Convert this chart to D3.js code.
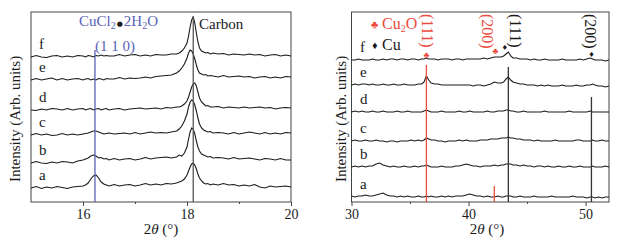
<!DOCTYPE html>
<html>
<head>
<meta charset="utf-8">
<script src="https://cdn.jsdelivr.net/npm/d3@7"></script>
<style>
  body { margin: 0; background: #fff; }
  svg text { font-family: "Liberation Serif", "Times New Roman", serif; }
</style>
</head>
<body>
<div id="wrapper"></div>
<script>
// ---- data ----
const traceNames = ['a', 'b', 'c', 'd', 'e', 'f'];

// left panel: 2theta grid and intensities above each baseline
const xLeft = [
	15.0, 15.1, 15.2, 15.3, 15.4, 15.5, 15.6, 15.7, 15.8, 15.9,
	16.0, 16.05, 16.1, 16.15, 16.2, 16.25, 16.3, 16.35, 16.4, 16.45, 16.5,
	16.6, 16.7, 16.8, 16.9, 17.0, 17.1, 17.2, 17.3, 17.4, 17.5, 17.6, 17.7,
	17.8, 17.85, 17.9, 17.95, 18.0, 18.03, 18.06, 18.09, 18.12, 18.15, 18.18, 18.21, 18.24, 18.28, 18.32, 18.36, 18.4, 18.45, 18.5,
	18.6, 18.7, 18.8, 18.9, 19.0, 19.1, 19.2, 19.3, 19.4, 19.5, 19.6, 19.7, 19.8, 19.9, 20.0
];
const offsetsLeft = [14, 39, 67, 92, 122, 145];
const leftA = [0, 1.5, -0.5, 1, 0, 1.5, 0.5, -0.5, 1, 1.5,
	2, 3, 5, 9, 12, 13, 10, 6, 4, 3, 2,
	3.5, 2, 3, 3.5, 2, 3, 4.5, 3, 4, 3, 4.5, 4,
	5, 6, 7, 9, 13, 17, 21, 24, 25, 23, 19, 14, 10, 7, 5, 4, 4.5, 3, 4,
	3, 4.5, 3, 3.5, 2, 3, 2, 3.5, 1, 0, 2, 1, 1.5, 2, 1];
const leftB = [0, 1.5, 0, -0.5, 1, 0, 1.5, 1, 0, 2,
	3, 4, 5, 7, 8, 7, 5, 5.5, 4, 4.5, 3,
	4.5, 3, 4, 4.5, 3, 4, 5.5, 4, 5, 5.5, 6, 5,
	6, 8, 7, 10, 16, 24, 31, 35, 34, 29, 22, 16, 12, 9, 8, 7, 6, 6.5, 5,
	5.5, 5, 4, 5.5, 4, 4.5, 5, 4, 3, 4.5, 4, 3, 4.5, 3, 3];
const leftC = [0, 1.5, 0, 1, -0.5, 0, 1.5, 0, 1, 0,
	1, 1.5, 2, 3, 4, 4, 3, 2, 1, 1.5, 2,
	1, 1.5, 2, 1, 2.5, 1, 2, 3, 2, 2.5, 2, 3,
	4, 6, 9, 14, 21, 28, 33, 35, 34, 30, 24, 17, 11, 7, 5, 4, 3, 3.5, 2,
	2.5, 2, 1, 2.5, 1, 2, 3, 2, 1, 2.5, 1, 2, 1, 2.5, 2];
const leftD = [0, -0.5, 1, 0, 1.5, 1, 0, 1.5, 0, 1,
	1.5, 0, 1, 1.5, 0, 1, 1.5, 0, 1, 1.5, 0,
	1, 1.5, 0, 1, 1.5, 2, 1, 1.5, 2, 1, 2.5, 2,
	3, 3, 4, 6, 9, 13, 18, 23, 26, 27, 24, 18, 12, 8, 6, 4, 4.5, 3, 3,
	3.5, 2, 3, 2.5, 2, 3, 2, 2.5, 3, 2, 2.5, 1, 2, 2.5, 2];
const leftE = [0, 1.5, 0, 1, 2, 0, 1.5, 0, 1, 1.5,
	0, 1, 1.5, 0, 1, 0, 1.5, 1, 0, 1.5, 1,
	1, 2.5, 1, 2, 1.5, 2, 3, 2, 3.5, 4, 4.5, 5,
	7, 9, 12, 16, 22, 27, 30, 29, 26, 21, 15, 10, 7, 6, 5, 5.5, 4, 4.5, 4,
	3, 4.5, 3, 3.5, 4, 3, 3.5, 2, 3, 3.5, 2, 3, 2, 3.5, 3];
const leftF = [0, 1.5, 0, -0.5, 1, 1.5, 0, 1, 0, 1.5,
	1, 0, 1.5, 1, 0, 1.5, 1, 2, 1, 1.5, 1,
	1, 2.5, 1, 2, 2.5, 1, 2, 1, 2.5, 2, 2, 3,
	3, 4, 6, 9, 14, 21, 30, 37, 40, 34, 24, 15, 9, 6, 5, 4, 4.5, 3, 4,
	3, 3.5, 2, 3, 2.5, 2, 3, 2, 2.5, 1, 2, 2.5, 1, 2, 1];
const seriesLeft = [leftA, leftB, leftC, leftD, leftE, leftF];

// right panel
const xRight = [
	30.0, 30.3, 30.6, 30.9, 31.2, 31.5, 31.8, 32.1, 32.4, 32.7, 33.0, 33.3, 33.6, 33.9, 34.2, 34.5, 34.8, 35.1, 35.4, 35.7, 36.0,
	36.2, 36.4, 36.6, 36.8,
	37.1, 37.4, 37.7, 38.0, 38.3, 38.6, 38.9, 39.2, 39.5, 39.8, 40.1, 40.4, 40.7, 41.0, 41.3, 41.6, 41.9, 42.2, 42.5, 42.8,
	43.0, 43.2, 43.4, 43.6, 43.8,
	44.1, 44.4, 44.7, 45.0, 45.3, 45.6, 45.9, 46.2, 46.5, 46.8, 47.1, 47.4, 47.7, 48.0, 48.3, 48.6, 48.9, 49.2, 49.5, 49.8, 50.1, 50.4,
	50.6, 50.8,
	51.1, 51.4, 51.7, 52.0
];
const offsetsRight = [5, 35, 61, 90, 117, 142];
const rightA = [1, 0, 1, 1, 2, 1, 1, 2, 3, 4, 2, 1, 1, 0, 1, 0, 1, 0, 0, 1, 0,
	0, 1, 0, 1,
	0, 0, 1, 0, 1, 0, 1, 1, 1, 2, 3, 2, 1, 1, 0, 1, 0, 0, 1, 0,
	0, 1, 1, 1, 0,
	0, 1, 0, 0, 0, 1, 0, 0, 0, 0, 1, 0, 0, 0, 0, 0, 1, 0, 0, 0, -1, 0,
	0, -1,
	0, -1, 0, 0];
const rightB = [0, 1, 0, 1, 0, 1, 1, 3, 4, 2, 1, 0, 1, 0, 0, 1, 0, 0, 1, 0, 1,
	1, 2, 1, 0,
	0, 0, 1, 0, 0, 0, 1, 1, 2, 3, 2, 1, 1, 0, 1, 1, 1, 2, 1, 2,
	2, 3, 3, 3, 2,
	2, 1, 2, 1, 1, 0, 1, 1, 0, 1, 0, 0, 1, 0, 0, 1, 0, 0, 1, 0, 0, 0,
	1, 0,
	0, 0, 1, 0];
const rightC = [0, 1, 0, 0, 1, 0, 0, 1, 0, 0, -1, 0, 0, -1, 0, 0, 0, 1, 0, 1, 0,
	1, 3, 2, 1,
	1, 0, 0, -1, 0, 0, 0, 1, 0, 1, 0, 0, 0, 1, 1, 1, 2, 2, 2, 3,
	3, 3, 4, 3, 3,
	2, 2, 1, 1, 1, 0, 1, 0, 0, 0, 0, 1, 0, 0, 0, 0, 0, 1, 1, 0, 0, 0,
	1, 0,
	0, 1, 0, 0];
const rightD = [0, 1, 0, 1, 0, 0, 1, 0, 0, 1, 0, 0, 0, 1, 0, 0, 1, 0, 0, 0, 0,
	1, 2, 1, 0,
	0, 0, 1, 0, 0, 0, 0, 1, 0, 0, 1, 0, 0, 0, 0, 1, 0, 0, 1, 1,
	1, 2, 2, 1, 1,
	0, 0, 1, 0, 0, 0, 0, 0, 1, 0, 0, 0, 0, 0, 0, 1, 0, 0, 0, 0, 0, 1,
	0, 0,
	0, 0, 0, 0];
const rightE = [0, 1, 0, 1, 1, 0, 1, 0, 0, 1, 0, 0, 1, 0, 0, 1, 0, 0, 0, 1, 1,
	3, 9, 5, 2,
	1, 1, 0, 0, 0, 0, 0, 0, 0, 0, 0, -1, 0, 0, -1, 0, 1, 3, 2, 2,
	3, 6, 8, 5, 3,
	2, 1, 1, 0, 0, 0, -1, 0, -1, 0, -1, -1, -1, 0, -1, -1, -1, 0, -1, -1, 0, 0,
	1, 0,
	-1, -1, -2, -1];
const rightF = [0, 0, 1, 0, 0, 0, 1, 0, 0, 1, 0, 1, 1, 0, 1, 1, 0, 1, 1, 0, 1,
	1, 2, 1, 1,
	1, 0, 1, 1, 1, 0, 1, 1, 0, 1, 1, 1, 1, 1, 2, 1, 2, 3, 3, 3,
	4, 6, 8, 4, 2,
	2, 1, 1, 1, 0, 1, 0, 0, 1, 0, 0, 0, 0, 1, 0, 0, 0, 0, 1, 0, 1, 2,
	1, 0,
	0, 0, -1, 0];
const seriesRight = [rightA, rightB, rightC, rightD, rightE, rightF];

// reference peak positions
const cuclPeak = 16.23;
const carbonPeak = 18.12;
const cu2oPeaks = [36.4, 42.2];
const cuPeaks = [43.4, 50.5];
const leftTicksMajor = [16, 18, 20];
const leftTicksMinor = [17, 19];
const rightTicksMajor = [30, 40, 50];
const rightTicksMinor = [35, 45];

// ---- drawing ----
const width = 628, height = 240;
const plotTop = 12, plotBottom = 202;
const red = '#ec4a3c', blue = '#5a62b6', ink = '#1a1a1a';

const svg = d3.select('#wrapper').append('svg').attr('width', width).attr('height', height);

const y = d3.scaleLinear().domain([0, 190]).range([plotBottom, plotTop]);

function panel(opts) {
	const x = d3.scaleLinear().domain(opts.domain).range(opts.range);
	const g = svg.append('g');

	// frame
	g.append('rect')
		.attr('x', opts.range[0]).attr('y', plotTop)
		.attr('width', opts.range[1] - opts.range[0]).attr('height', plotBottom - plotTop)
		.attr('fill', 'none').attr('stroke', '#444').attr('stroke-width', 1);

	const major = g.append('g').attr('transform', `translate(0,${plotBottom})`)
		.call(d3.axisBottom(x).tickValues(opts.major).tickSize(4).tickSizeOuter(0).tickPadding(3).tickFormat(d3.format('d')));
	const minor = g.append('g').attr('transform', `translate(0,${plotBottom})`)
		.call(d3.axisBottom(x).tickValues(opts.minor).tickSize(2).tickSizeOuter(0).tickFormat(''));
	[major, minor].forEach((a) => {
		a.select('.domain').remove();
		a.selectAll('line').attr('stroke', '#444');
	});
	major.selectAll('text').attr('font-size', 14).attr('fill', ink);

	// x title
	const xt = g.append('text').attr('x', opts.titleX).attr('y', 234)
		.attr('text-anchor', 'middle').attr('font-size', 15).attr('fill', ink);
	xt.append('tspan').text('2');
	xt.append('tspan').attr('font-style', 'italic').text('\u03B8');
	xt.append('tspan').text(' (\u00B0)');

	// y title
	g.append('text')
		.attr('transform', `translate(${opts.yTitleX},${(plotTop + plotBottom) / 2 + 12}) rotate(-90)`)
		.attr('text-anchor', 'middle').attr('font-size', 15).attr('fill', ink)
		.text('Intensity (Arb. units)');

	const line = d3.line().x((d) => x(d[0])).y((d) => y(d[1]));
	opts.series.forEach((s, i) => {
		const pts = opts.xs.map((xv, j) => [xv, opts.offsets[i] + s[j]]);
		g.append('path').attr('d', line(pts))
			.attr('fill', 'none').attr('stroke', ink).attr('stroke-width', 1.1);
		g.append('text').attr('x', opts.labelX).attr('y', y(opts.offsets[i]) - 8)
			.attr('font-size', 15).attr('fill', ink).text(traceNames[i]);
	});
	return { g, x };
}

// left panel
const L = panel({
	domain: [15, 20], range: [31, 291], major: leftTicksMajor, minor: leftTicksMinor,
	xs: xLeft, series: seriesLeft, offsets: offsetsLeft, labelX: 39, titleX: 161, yTitleX: 20
});
L.g.append('line').attr('x1', L.x(cuclPeak)).attr('x2', L.x(cuclPeak)).attr('y1', y(152)).attr('y2', y(0))
	.attr('stroke', blue).attr('stroke-width', 1.3);
L.g.append('line').attr('x1', L.x(carbonPeak)).attr('x2', L.x(carbonPeak)).attr('y1', y(186)).attr('y2', y(0))
	.attr('stroke', '#555').attr('stroke-width', 1.3);

const cucl = L.g.append('text').attr('x', 79).attr('y', 26).attr('font-size', 15).attr('fill', blue);
cucl.append('tspan').text('CuCl');
cucl.append('tspan').attr('font-size', 10).attr('dy', 3).text('2');
cucl.append('tspan').attr('dy', -3).attr('font-family', 'DejaVu Sans').attr('font-size', 7).attr('dx', 1).attr('fill', ink).text('\u25CF');
cucl.append('tspan').attr('dx', 1).text('2H');
cucl.append('tspan').attr('font-size', 10).attr('dy', 3).text('2');
cucl.append('tspan').attr('dy', -3).text('O');
L.g.append('text').attr('x', 115).attr('y', 51).attr('text-anchor', 'middle')
	.attr('font-size', 15).attr('fill', blue).text('(1 1 0)');
L.g.append('text').attr('x', 199).attr('y', 29).attr('font-size', 15).attr('fill', ink).text('Carbon');

// right panel
const R = panel({
	domain: [30, 52], range: [351.5, 609], major: rightTicksMajor, minor: rightTicksMinor,
	xs: xRight, series: seriesRight, offsets: offsetsRight, labelX: 360, titleX: 487, yTitleX: 346
});
R.g.append('line').attr('x1', R.x(cu2oPeaks[0])).attr('x2', R.x(cu2oPeaks[0])).attr('y1', y(137)).attr('y2', y(0))
	.attr('stroke', red).attr('stroke-width', 1.3);
R.g.append('line').attr('x1', R.x(cu2oPeaks[1])).attr('x2', R.x(cu2oPeaks[1])).attr('y1', y(16)).attr('y2', y(0))
	.attr('stroke', red).attr('stroke-width', 1.3);
R.g.append('line').attr('x1', R.x(cuPeaks[0])).attr('x2', R.x(cuPeaks[0])).attr('y1', y(135)).attr('y2', y(0))
	.attr('stroke', '#333').attr('stroke-width', 1.3);
R.g.append('line').attr('x1', R.x(cuPeaks[1])).attr('x2', R.x(cuPeaks[1])).attr('y1', y(105)).attr('y2', y(0))
	.attr('stroke', '#333').attr('stroke-width', 1.3);

// legend
R.g.append('text').attr('x', 371).attr('y', 28).attr('font-size', 11).attr('font-family', 'DejaVu Sans')
	.attr('fill', red).text('\u2663');
const cu2o = R.g.append('text').attr('x', 382).attr('y', 29).attr('font-size', 16).attr('fill', red);
cu2o.append('tspan').text('Cu');
cu2o.append('tspan').attr('font-size', 10).attr('dy', 3).text('2');
cu2o.append('tspan').attr('dy', -3).text('O');
R.g.append('text').attr('x', 372).attr('y', 49).attr('font-size', 11).attr('font-family', 'DejaVu Sans')
	.attr('fill', ink).text('\u2666');
R.g.append('text').attr('x', 382).attr('y', 50).attr('font-size', 16).attr('fill', ink).text('Cu');

// rotated hkl labels
const hkl = [
	{ x: cu2oPeaks[0], text: '(111)', color: red, dx: 1 },
	{ x: cu2oPeaks[1], text: '(200)', color: red, dx: -7 },
	{ x: cuPeaks[0], text: '(111)', color: ink, dx: 7 },
	{ x: cuPeaks[1], text: '(200)', color: ink, dx: -1 }
];
hkl.forEach((h) => {
	R.g.append('text')
		.attr('transform', `translate(${R.x(h.x) + h.dx - 5},${14}) rotate(90)`)
		.attr('font-size', 16).attr('fill', h.color).text(h.text);
});

// peak markers on trace f
const markers = [
	{ x: cu2oPeaks[0], ch: '\u2663', color: red, lift: 2 },
	{ x: 42.3, ch: '\u2663', color: red, lift: 6 },
	{ x: cuPeaks[0] - 0.3, ch: '\u2666', color: ink, lift: 10 },
	{ x: cuPeaks[1], ch: '\u2666', color: ink, lift: 3 }
];
markers.forEach((m) => {
	R.g.append('text').attr('x', R.x(m.x)).attr('y', y(offsetsRight[5] + m.lift))
		.attr('text-anchor', 'middle').attr('font-size', 9).attr('font-family', 'DejaVu Sans')
		.attr('fill', m.color).text(m.ch);
});
</script>
</body>
</html>
